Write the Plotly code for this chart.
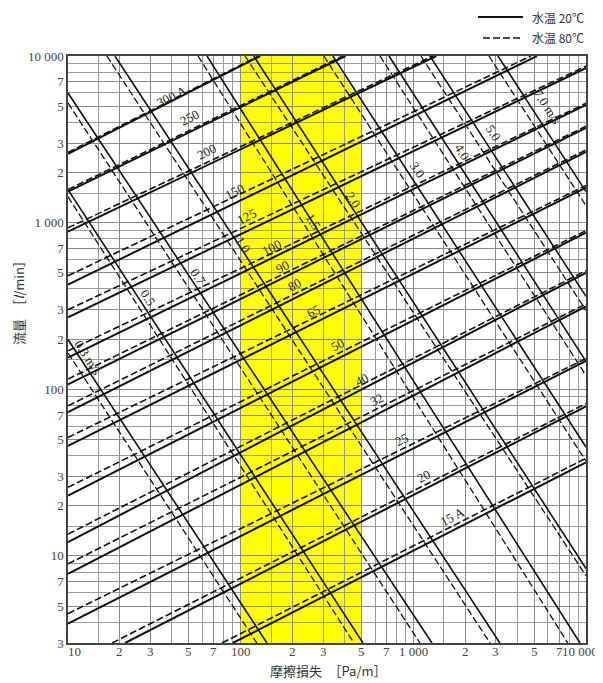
import plotly.graph_objects as go
import math

# ---------------- data ----------------
# pipe size lines (flow vs friction loss), endpoints  [R0, R1], [Q0, Q1]
pipe_labels = ["15 A", "20", "25", "32", "40", "50", "65", "80", "90", "100", "125", "150", "200", "250", "300 A"]
pipe20_R0 = [90, 21.4, 10, 10, 10, 10, 10, 10, 10, 10, 10, 10, 10, 10, 10]
pipe20_Q0 = [3, 3, 3.92, 7.8, 12.1, 23, 45.8, 72.8, 107, 155, 270, 425, 883, 1535, 2590]
pipe20_R1 = [10000, 10000, 10000, 10000, 10000, 10000, 10000, 10000, 10000, 10000, 10000, 5200, 1360, 405, 130]
pipe20_Q1 = [36.4, 79, 148, 314, 500, 870, 1620, 2660, 3700, 5090, 8470, 10000, 10000, 10000, 10000]

pipe80_R0 = [78, 18, 10, 10, 10, 10, 10, 10, 10, 10, 10, 10, 10, 10, 10]
pipe80_Q0 = [3, 3, 4.5, 8.95, 13.5, 25.8, 51.4, 79.5, 115, 170, 300, 480, 930, 1580, 2640]
pipe80_R1 = [10000, 10000, 10000, 10000, 10000, 10000, 10000, 10000, 10000, 10000, 10000, 4800, 1300, 390, 127]
pipe80_Q1 = [38.5, 82, 153, 325, 515, 895, 1670, 2730, 3790, 5200, 8700, 10000, 10000, 10000, 10000]

# velocity lines
vel_labels = ["0.3 m/s", "0.5", "0.7", "1.0", "1.5", "2.0", "3.0", "4.0", "5.0", "7.0 m/s"]
vel20_R0 = [10, 10, 10, 18.7, 63.8, 119, 342, 723, 1247, 3090]
vel20_Q0 = [199, 1578, 6000, 10000, 10000, 10000, 10000, 10000, 10000, 10000]
vel20_R1 = [142, 511, 1282, 3170, 9230, 10000, 10000, 10000, 10000, 10000]
vel20_Q1 = [3, 3, 3, 3, 3, 8.4, 45, 147, 361, 1535]

vel80_R0 = [10, 10, 10, 16.8, 56.6, 106, 303, 641, 1107, 2740]
vel80_Q0 = [165, 1430, 5230, 10000, 10000, 10000, 10000, 10000, 10000, 10000]
vel80_R1 = [124, 453, 1092, 2780, 7850, 10000, 10000, 10000, 10000, 10000]
vel80_Q1 = [3, 3, 3, 3, 3, 7.6, 37, 121, 297, 1265]

# highlighted design range (yellow)
yellow_R = [100, 100, 330, 500, 500]
yellow_Q = [3, 10000, 10000, 5300, 3]

# axis ticks
x_tickvals = [10, 20, 30, 50, 70, 100, 200, 300, 500, 700, 1000, 2000, 3000, 5000, 7000, 10000]
x_ticktext = ["10", "2", "3", "5", "7", "100", "2", "3", "5", "7", "1 000", "2", "3", "5", "7", "10 000"]
x_minor = [15, 40, 60, 80, 90, 150, 400, 600, 800, 900, 1500, 4000, 6000, 8000, 9000]
y_tickvals = [3, 5, 7, 10, 20, 30, 50, 70, 100, 200, 300, 500, 700, 1000, 2000, 3000, 5000, 7000, 10000]
y_ticktext = ["3", "5", "7", "10", "2", "3", "5", "7", "100", "2", "3", "5", "7", "1 000", "2", "3", "5", "7", "10 000"]
y_minor = [4, 6, 8, 9, 15, 40, 60, 80, 90, 150, 400, 600, 800, 900, 1500, 4000, 6000, 8000, 9000]

# label positions (log10 R, log10 Q)
pipe_lab_x = [3.229, 3.056, 2.934, 2.789, 2.702, 2.563, 2.419, 2.314, 2.245, 2.181, 2.036, 1.967, 1.805, 1.706, 1.602]
pipe_lab_y = [1.234, 1.479, 1.701, 1.940, 2.060, 2.269, 2.467, 2.629, 2.737, 2.850, 3.036, 3.186, 3.425, 3.629, 3.754]
vel_lab_x = [1.116, 1.463, 1.753, 2.013, 2.419, 2.650, 3.021, 3.281, 3.461, 3.774]
vel_lab_y = [2.192, 2.551, 2.677, 2.868, 3.006, 3.138, 3.317, 3.425, 3.539, 3.695]

# ---------------- figure ----------------
SERIF = "Liberation Serif, DejaVu Serif, Noto Sans CJK JP, serif"
CJK = "Noto Sans CJK JP, Liberation Serif, serif"
fig = go.Figure()

def add_lines(R0, Q0, R1, Q1, dash, width):
    for a, b, c, d in zip(R0, Q0, R1, Q1):
        fig.add_trace(go.Scatter(x=[a, c], y=[b, d], mode="lines",
                                 line=dict(color="#111111", width=width, dash=dash),
                                 hoverinfo="skip", showlegend=False))

add_lines(pipe80_R0, pipe80_Q0, pipe80_R1, pipe80_Q1, "7px,3px", 1.6)
add_lines(pipe20_R0, pipe20_Q0, pipe20_R1, pipe20_Q1, "solid", 2.0)
add_lines(vel80_R0, vel80_Q0, vel80_R1, vel80_Q1, "7px,3px", 1.3)
add_lines(vel20_R0, vel20_Q0, vel20_R1, vel20_Q1, "solid", 1.6)

# yellow band (drawn below grid)
path = "M " + " L ".join(f"{r},{q}" for r, q in zip(yellow_R, yellow_Q)) + " Z"
fig.add_shape(type="path", path=path, xref="x", yref="y", layer="below",
              fillcolor="#FFFF00", line=dict(width=0))

ann = []
for t, lx, ly in zip(pipe_labels, pipe_lab_x, pipe_lab_y):
    ann.append(dict(x=lx, y=ly, xref="x", yref="y", text=t, showarrow=False,
                    textangle=-27, font=dict(family=SERIF, size=13, color="#222")))
for t, lx, ly in zip(vel_labels, vel_lab_x, vel_lab_y):
    ann.append(dict(x=lx, y=ly, xref="x", yref="y", text=t, showarrow=False,
                    textangle=57, font=dict(family=SERIF, size=13, color="#222")))

# plot area in window pixels: x 68..586, y 56..643 (page has an 8px body margin)
PX0, PX1, PY0, PY1 = 68, 586, 56, 643
def px(x):
    return (x - PX0) / (PX1 - PX0)
def py(y):
    return (PY1 - y) / (PY1 - PY0)

# x tick labels (annotations in paper space just under the axis)
for i, (v, t) in enumerate(zip(x_tickvals, x_ticktext)):
    frac = (math.log10(v) - 1) / 3
    if i == 0:
        anchor, xx = "left", frac - 1 / (PX1 - PX0)
    elif i == len(x_tickvals) - 1:
        anchor, xx = "right", frac + 13 / (PX1 - PX0)
    else:
        anchor, xx = "center", frac
    ann.append(dict(x=xx, y=py(652), xref="paper", yref="paper", text=t, showarrow=False,
                    xanchor=anchor, yanchor="middle", borderpad=0,
                    font=dict(family=SERIF, size=13, color="#444")))

# axis titles
ann.append(dict(x=px(328), y=py(670), xref="paper", yref="paper", text="摩擦損失　［Pa/m］",
                showarrow=False, xanchor="center", yanchor="middle",
                font=dict(family=CJK, size=13, color="#333")))
ann.append(dict(x=px(18), y=py(300), xref="paper", yref="paper", text="流量　［<i>l</i>/min］",
                showarrow=False, textangle=-90, xanchor="center", yanchor="middle",
                font=dict(family=CJK, size=13, color="#333")))

# legend
ann.append(dict(x=px(530), y=py(17), xref="paper", yref="paper", text="水温 20℃",
                showarrow=False, xanchor="left", yanchor="middle",
                font=dict(family=CJK, size=12, color="#333")))
ann.append(dict(x=px(530), y=py(38), xref="paper", yref="paper", text="水温 80℃",
                showarrow=False, xanchor="left", yanchor="middle",
                font=dict(family=CJK, size=12, color="#333")))
fig.add_shape(type="line", xref="paper", yref="paper", x0=px(478), x1=px(523),
              y0=py(17), y1=py(17), line=dict(color="#111", width=2))
fig.add_shape(type="line", xref="paper", yref="paper", x0=px(483), x1=px(523),
              y0=py(38), y1=py(38), line=dict(color="#111", width=1.6, dash="7px,3px"))

fig.update_layout(
    width=595, height=675,
    margin=dict(l=PX0 - 8, r=595 - (PX1 - 8), t=PY0 - 8, b=675 - (PY1 - 8)),
    paper_bgcolor="white", plot_bgcolor="white",
    annotations=ann, showlegend=False,
)
fig.update_xaxes(type="log", range=[1, 4], tickmode="array", tickvals=x_tickvals, showticklabels=False,
                 showgrid=True, gridcolor="#8a8a8a", gridwidth=1, ticks="", ticklen=0,
                 minor=dict(tickmode="array", tickvals=x_minor, showgrid=True, gridcolor="#9a9a9a", gridwidth=1),
                 showline=True, linecolor="#444", linewidth=1.5, mirror=True, zeroline=False)
fig.update_yaxes(type="log", range=[math.log10(3), 4], tickmode="array", tickvals=y_tickvals, ticktext=y_ticktext,
                 showgrid=True, gridcolor="#8a8a8a", gridwidth=1, ticks="", ticklen=0,
                 tickfont=dict(family=SERIF, size=13, color="#444"),
                 minor=dict(tickmode="array", tickvals=y_minor, showgrid=True, gridcolor="#9a9a9a", gridwidth=1),
                 showline=True, linecolor="#444", linewidth=1.5, mirror=True, zeroline=False)

fig.write_html("out.html")
